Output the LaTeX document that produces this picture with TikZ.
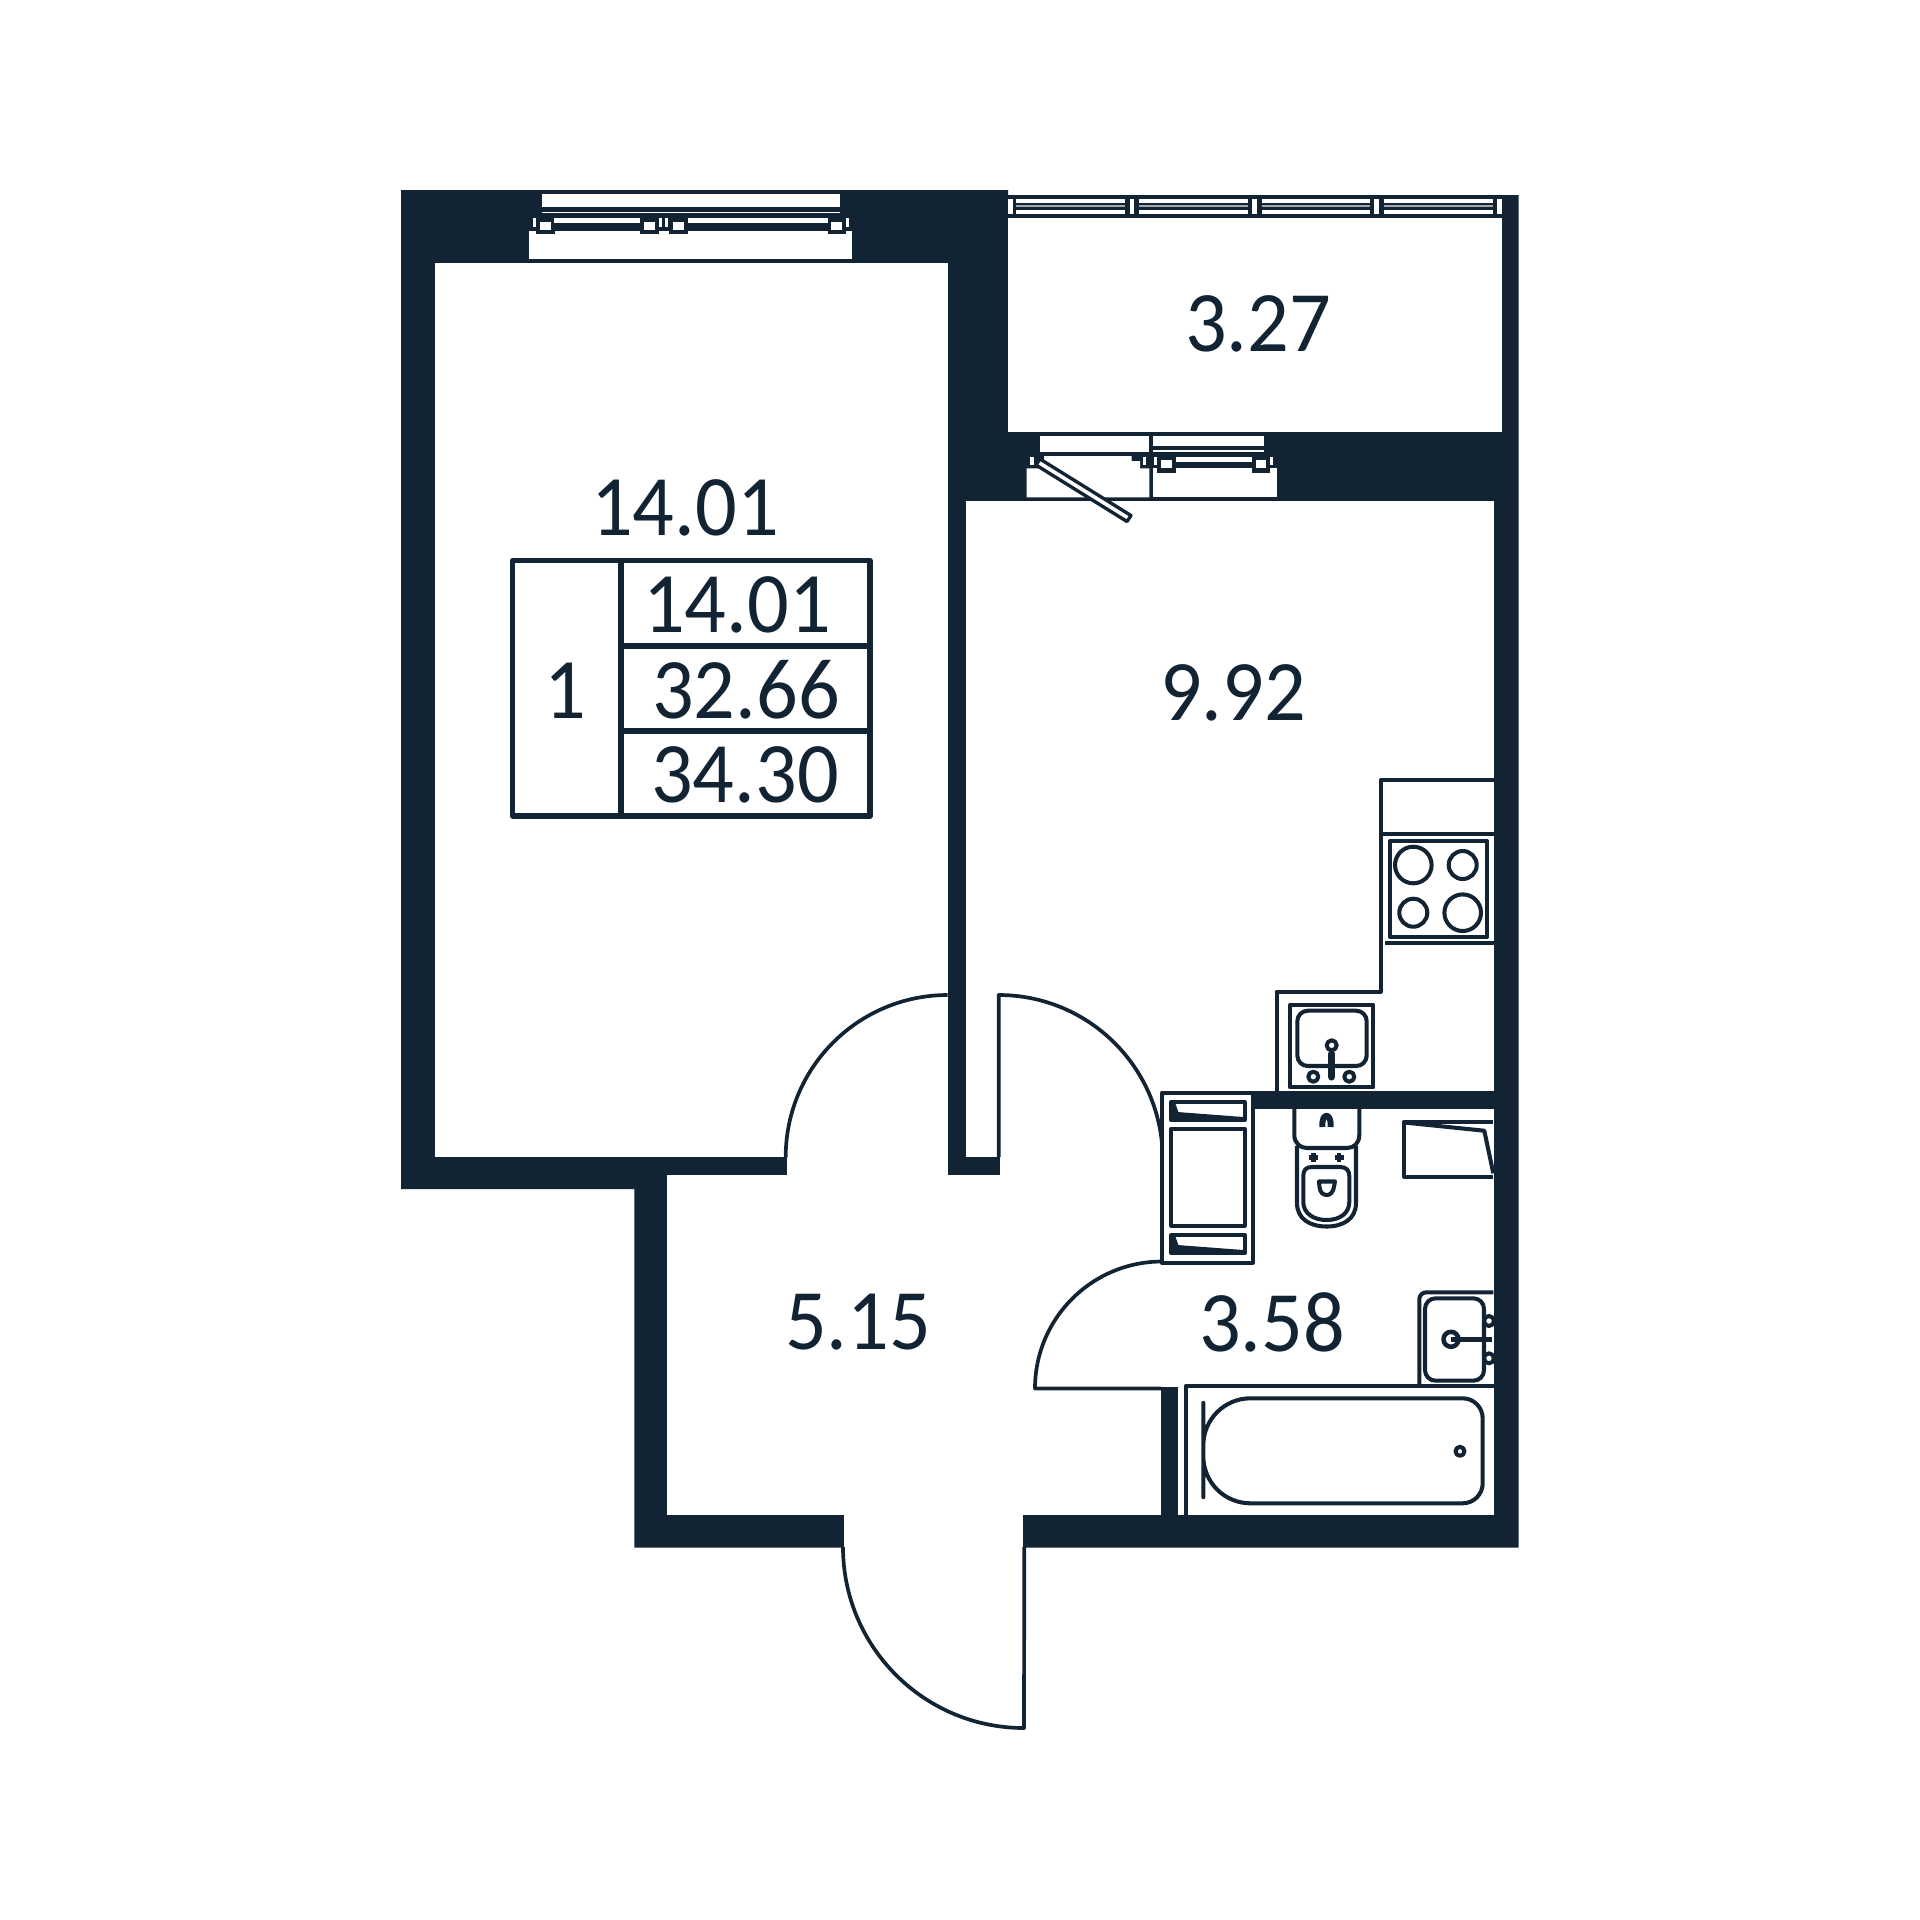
\documentclass[tikz,border=0pt]{standalone}
\usepackage{fontspec}
\setmainfont{Carlito}[FakeStretch=0.955]
\definecolor{planblue}{HTML}{122433}
\usetikzlibrary{positioning}

\begin{document}
\begin{tikzpicture}[
    x=0.01cm, y=-0.01cm,
    line join=round,
    fine/.style={draw=planblue, line width=1.15pt},
    thin line/.style={draw=planblue, line width=1.05pt},
    tablecell/.style={draw=planblue, line width=1.45pt},
    area/.style={text=planblue, inner sep=0pt, font=\fontsize{24.5}{24.5}\selectfont}
]
\useasboundingbox (0,0) rectangle (1920,1920);

% Walls
\fill[planblue] (401,190) -- (1008,190) -- (1008,195) -- (1518.5,195) -- (1518.5,1547.5) -- (634.3,1547.5) -- (634.3,1189) -- (401,1189) -- cycle;

% Rooms
\fill[white] (434.5,263) rectangle (947.7,1157);
\fill[white] (787,1157) rectangle (947.7,1175);
\fill[white] (1008,218) rectangle (1502,432);
\fill[white] (966,501) rectangle (1494,1515);
\fill[white] (667.3,1175) rectangle (966,1515);
\fill[white] (844,1515) rectangle (1022.5,1548);
\fill[planblue] (947.7,1157) rectangle (1000,1175);
\fill[planblue] (1252,1091) rectangle (1494,1109);
\fill[planblue] (1161,1387.3) rectangle (1178.3,1515);

% Balcony rail
\foreach \xa/\xb in {1016/1125, 1138.7/1248, 1261.5/1370, 1383.6/1492.7} {
    \fill[white] (\xa,199) rectangle (\xb,202.5);
    \fill[white] (\xa,210) rectangle (\xb,213.7);
    \draw[white!60!planblue, line width=0.3pt] (\xa,206) -- (\xb,206);
}
\foreach \xa in {1008, 1129.6, 1252.2, 1374.2, 1497} {
    \fill[white] (\xa,199) rectangle ++(4.5,14.7);
}

% Bedroom window
\foreach \xa/\ya/\xb/\yb in {542/194/840/207, 542/211.5/840/213.3, 554/218/640/223.3, 688/218/827.6/223.3, 540/221.7/550.7/230, 644/221.7/655/230, 673.3/221.7/684/230, 831/221.7/842/230, 533.3/218/536/226.7, 659.3/218/662/226.7, 665/218/667.7/226.7, 846/218/849/226.7, 529.3/230.7/852.4/259} {
    \fill[white] (\xa,\ya) rectangle (\xb,\yb);
}
\foreach \xa/\xb in {536/555, 640/658.6, 669/688, 827.5/845.5} {
    \fill[planblue] (\xa,230) rectangle (\xb,234);
}

% Kitchen window
\foreach \xa/\ya/\xb/\yb in {1040/436/1149.3/452.3, 1153.3/436/1264.3/446, 1153.3/450/1264.3/452, 1175.7/456.7/1251.7/461.7, 1161/460/1171.7/468.3, 1255.7/460/1266/468.3, 1154/456.7/1156.7/465, 1270/456.7/1272.7/465, 1143/457/1146/465, 1030/456.7/1034/465, 1153.3/468.3/1276.7/497.3} {
    \fill[white] (\xa,\ya) rectangle (\xb,\yb);
}
\fill[planblue] (1156.7,468.3) rectangle (1175.7,472.7);
\fill[planblue] (1251.7,468.3) rectangle (1270,472.7);
\fill[white] (1026.7,468.3) -- (1044,468.3) -- (1044,456) -- (1131.7,456) -- (1131.7,461) -- (1140,461) -- (1140,468.3) -- (1149.3,468.3) -- (1149.3,497.3) -- (1026.7,497.3) -- cycle;
\draw[fine, line width=0.95pt, fill=white] (1040,459) -- (1131,515.5) -- (1127,521.5) -- (1036,465) -- cycle;

% Doors
\draw[thin line] (785.7,1157) arc[start angle=180, end angle=270, radius=162];
\draw[thin line] (1162.7,1159) arc[start angle=0, end angle=-90, radius=164] -- (998.7,1157);
\draw[thin line] (1162,1261.5) arc[start angle=270, end angle=180, radius=127] -- (1161,1388.5);
\draw[thin line] (843,1547) arc[start angle=180, end angle=90, radius=181] -- (1024.3,1547);

% Kitchen units
\draw[fine] (1494,780) -- (1380.7,780) -- (1380.7,991.7) -- (1276.7,991.7) -- (1276.7,1091);
\draw[fine] (1380.7,834) -- (1494,834);
\draw[fine] (1385,943.3) -- (1494,943.3);
\draw[fine] (1390,841) rectangle (1487,937);
\foreach \cx/\cy/\rad in {1413.3/865/18.3, 1462.7/865/14, 1413.3/912.7/14, 1462.7/912.7/18.3} {
    \draw[fine] (\cx,\cy) circle[radius=\rad];
}
\draw[fine] (1290,1005) rectangle (1373.3,1087.3);
\draw[fine, rounded corners=3pt] (1297.3,1010.7) rectangle (1366.7,1066);
\draw[fine, fill=white] (1331.7,1045.3) circle[radius=5];
\draw[fine, fill=white] (1313.3,1076.7) circle[radius=5];
\draw[fine, fill=white] (1349.3,1076.7) circle[radius=5];
\draw[planblue, line width=2pt, line cap=round] (1331.5,1054) -- (1331.5,1077);

% Shaft box
\draw[fine, fill=white] (1162,1092.7) rectangle (1253,1262.7);
\draw[fine] (1171.3,1102) rectangle (1244.7,1120);
\draw[fine] (1171.3,1129) rectangle (1244.7,1225.7);
\draw[fine] (1171.3,1235) rectangle (1244.7,1253);
\draw[fine, fill=planblue] (1173,1103) -- (1177,1114) -- (1243,1119) -- (1173,1119) -- cycle;
\draw[fine, fill=planblue] (1173,1236) -- (1177,1247) -- (1243,1252) -- (1173,1252) -- cycle;

% Toilet
\draw[fine] (1294.3,1109) -- (1294.3,1135) .. controls (1294.3,1143) and (1300,1148) .. (1307,1148) -- (1347,1148) .. controls (1354,1148) and (1359.3,1143) .. (1359.3,1135) -- (1359.3,1109);
\draw[fine] (1297,1146) -- (1297,1203) .. controls (1297,1219) and (1310,1226.5) .. (1326.7,1226.5) .. controls (1343,1226.5) and (1356,1219) .. (1356,1203) -- (1356,1146);
\draw[fine] (1303.3,1176) .. controls (1303.3,1170) and (1306,1167) .. (1312,1167) -- (1340,1167) .. controls (1346,1167) and (1349.3,1170) .. (1349.3,1176) -- (1349.3,1202) .. controls (1349.3,1213) and (1340,1220) .. (1326.7,1220) .. controls (1313,1220) and (1303.3,1213) .. (1303.3,1202) -- cycle;
\draw[planblue, line width=1.7pt] (1322.5,1127) .. controls (1321,1112) and (1332,1112) .. (1330.5,1127);
\foreach \cx in {1313.3, 1339} {
    \draw[planblue, line width=1.3pt] (\cx-4.5,1157.7) -- (\cx+4.5,1157.7);
    \draw[planblue, line width=1.3pt] (\cx,1153.2) -- (\cx,1162.2);
}
\draw[fine] (1319,1181.5) -- (1335,1181.5) -- (1334,1187) .. controls (1333,1192.5) and (1330,1195) .. (1327,1195) .. controls (1323,1195) and (1320,1192.5) .. (1319.5,1187) -- cycle;

% Bathroom fittings
\draw[fine] (1493.3,1121.7) -- (1404.3,1121.7) -- (1404.3,1176.7) -- (1493.3,1176.7);
\draw[fine] (1404.3,1122.5) -- (1484.3,1130.7) -- (1493.3,1173.3);
\draw[fine, rounded corners=2pt] (1493.3,1292.3) -- (1419.3,1292.3) -- (1419.3,1385.7);
\draw[fine, rounded corners=3pt] (1425,1298.3) rectangle (1484,1380.7);
\draw[planblue, line width=1.3pt] (1451,1339.3) circle[radius=7.5];
\draw[planblue, line width=1.6pt] (1451,1339.3) -- (1491.7,1339.3);
\draw[fine, fill=white] (1489,1321) circle[radius=5];
\draw[fine, fill=white] (1489,1358.3) circle[radius=5];
\draw[fine] (1494,1385.7) -- (1186,1385.7) -- (1186,1515);
\draw[fine] (1203.3,1450) [rounded corners=13.4pt] -- (1203.3,1398.3) -- (1340,1398.3) [rounded corners=5.7pt] -- (1482.7,1398.3) -- (1482.7,1503.3) -- (1340,1503.3) [rounded corners=13.4pt] -- (1203.3,1503.3) -- cycle;
\draw[fine] (1460,1451.3) circle[radius=4.5];

% Summary table
\draw[tablecell] (512.7,560.7) rectangle (870,816);
\draw[tablecell] (621,560.7) -- (621,816);
\draw[tablecell] (621,646) -- (870,646);
\draw[tablecell] (621,731) -- (870,731);

% Labels
\node (bedroomarea) [area] at (685,508) {14.01};
\node (balconyarea) [area] at (1258,324) {3.27};
\node (kitchenarea) [area] at (1233,693) {9.92};
\node (hallarea) [area] at (858,1322) {5.15};
\node (bathroomarea) [area] at (1272,1322) {3.58};
\node (roomcount) [area] at (565,691) {1};
\node (livingarea) [area] at (737,605) {14.01};
\node (totalarea) [area] at (746,690) {32.66};
\node (fullarea) [area] at (745,775) {34.30};

\end{tikzpicture}
\end{document}
